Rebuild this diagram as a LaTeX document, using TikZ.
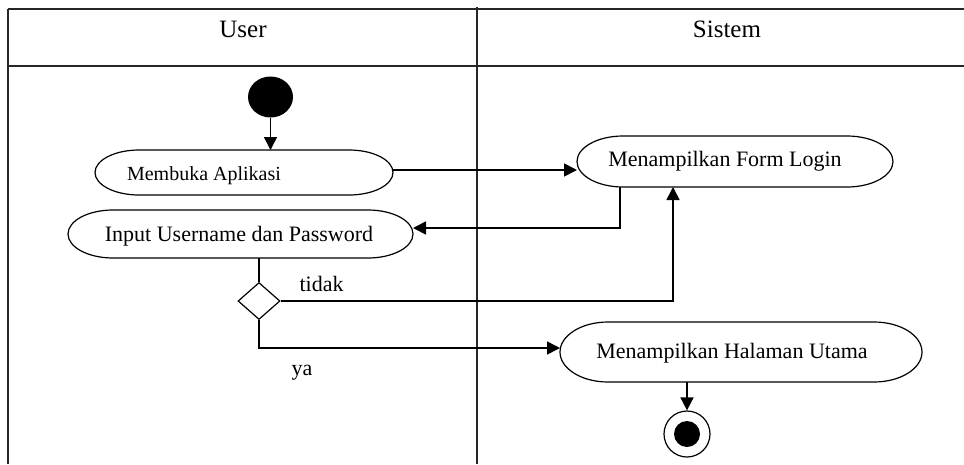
\documentclass[tikz,border=0pt]{standalone}
\usepackage{fontspec}
\setmainfont{Liberation Serif}
\usetikzlibrary{arrows.meta,shapes.geometric,calc}

% outline of an action: flat top and bottom, half-ellipse ends
\newcommand\actoutline[3]{%
  \draw[actline] ([xshift=#2]#1.north west) -- ([xshift=-#2]#1.north east)
    arc[start angle=90,end angle=-90,x radius=#2,y radius=#3]
    -- ([xshift=#2]#1.south west)
    arc[start angle=270,end angle=90,x radius=#2,y radius=#3] -- cycle;}

\begin{document}
\begin{tikzpicture}[x=1pt,y=1pt,
  act/.style={inner sep=0pt,outer sep=0pt,font=\fontsize{22}{24}\selectfont},
  actline/.style={line width=1.2pt,black},
  frame/.style={line width=1.3pt,black!85},
  flow/.style={line width=1.6pt,-{Triangle[length=13pt,width=13pt]}},
  link/.style={line width=1.6pt},
  lbl/.style={font=\fontsize{22}{24}\selectfont},
  head/.style={font=\fontsize{25}{27}\selectfont},
  decision/.style={diamond,draw,line width=1.2pt,inner sep=0pt,minimum width=42pt,minimum height=37pt,aspect=1.1},
  startnode/.style={ellipse,fill=black,inner sep=0pt,minimum width=45pt,minimum height=41pt},
]
\useasboundingbox (0,0) rectangle (964,-464);

% swimlane frame
\coordinate (tl) at (8,-9);
\coordinate (tr) at (964,-9);
\coordinate (hl) at (8,-66);
\coordinate (hr) at (964,-66);
\coordinate (bl) at (8,-464);
\coordinate (mt) at (477,-7);
\coordinate (mb) at (477,-464);
\draw[frame] (tl) -- (tr);
\draw[frame] (hl) -- (hr);
\draw[frame] (tl) -- (bl);
\draw[frame] (mt) -- (mb);
\node[head] (user) at (243,-29) {User};
\node[head] (sistem) at (727,-29) {Sistem};

% start and end
\node[startnode] (start) at (270.5,-97) {};
\node[circle,draw,line width=1.2pt,minimum size=46pt,inner sep=0pt] (end) at (687,-434) {};
\node[circle,fill=black,minimum size=26pt,inner sep=0pt] (endin) at (end) {};

% actions
\node[act,minimum width=298pt,minimum height=45pt,
  label={[lbl,font=\fontsize{20}{22}\selectfont,xshift=-40pt,yshift=-3pt]center:Membuka Aplikasi}]
  (membuka) at (244,-172.5) {};
\actoutline{membuka}{44pt}{22.5pt}

\node[act,minimum width=345pt,minimum height=48pt] (input) at (240.5,-234) {};
\node[lbl] (inputtxt) at (239,-236) {Input Username dan Password};
\actoutline{input}{45pt}{24pt}

\node[act,minimum width=316pt,minimum height=51pt] (form) at (735,-161.5) {};
\node[lbl] (formtxt) at (725,-161) {Menampilkan Form Login};
\actoutline{form}{46pt}{25.5pt}

\node[act,minimum width=362pt,minimum height=60pt] (home) at (741,-352) {};
\node[lbl] (hometxt) at (732,-353) {Menampilkan Halaman Utama};
\actoutline{home}{48pt}{30pt}

% decision
\node[decision] (dec) at (259,-301) {};
\node[lbl,anchor=west] (tidak) at (296,-284) {tidak};
\node[lbl,anchor=west] (ya) at (288,-373) {ya};

% flows
\draw[flow] (start.south -| start) -- (start |- membuka.north);
\draw[flow] ([yshift=2.5pt]membuka.east) -- ([yshift=2.5pt]membuka.east -| form.west);
\draw[flow] ([xshift=-115pt]form.south) |- ([yshift=6pt]input.east);
\draw[link] (input.south -| dec.north) -- (dec.north);
\draw[flow] (dec.east) -| ([xshift=-62pt]form.south);
\draw[flow] (dec.south) |- ([yshift=4pt]home.west);
\draw[flow] (home.south -| end.north) -- (end.north);
\end{tikzpicture}
\end{document}
